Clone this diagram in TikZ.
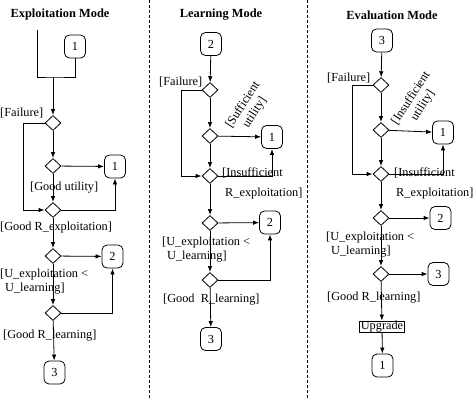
\documentclass[tikz,border=0pt]{standalone}
\usepackage{fontspec}
\setmainfont{Liberation Serif}
\usepackage{tikz}
\usetikzlibrary{shapes.geometric, arrows.meta, positioning}
\tikzstyle{state} = [draw, rounded corners=5pt,
minimum width=21pt, minimum height=23pt, inner sep=0pt,
line width=0.8pt]
\tikzstyle{choice} = [draw, diamond, minimum width=16pt,
minimum height=15pt, inner sep=0pt, line width=0.8pt]
\tikzstyle{arrow} = [line width=0.8pt,-{Latex[length=6pt,width=4.5pt]}]
\tikzstyle{wire} = [line width=0.8pt]

\begin{document}
\begin{tikzpicture}[
        x=1pt, y=-1pt,
        font=\fontsize{12.3}{14}\selectfont,
        % Estilo para las condiciones
        guard/.style={inner sep=0pt, anchor=west, align=left},
        title/.style={font=\fontsize{12.4}{14}\selectfont\bfseries},
    ]
        \useasboundingbox (0,0) rectangle (474,400);

        % 0. Separadores entre modos
        \draw[dash pattern=on 3pt off 2pt, line width=0.6pt] (149,0) -- (149,400);
        \draw[dash pattern=on 3pt off 2pt, line width=0.6pt] (307,0) -- (307,400);

        % 1. Exploitation Mode
        \node[title] (etitle) at (60,15) {Exploitation Mode};
        \coordinate (estart) at (37,30);
        \coordinate (ejoin) at (53,77);
        \node[state] (etop) at (75,46.5) {1};
        \node[choice] (ed1) at (53,123) {};
        \node[choice] (ed2) at (53,166) {};
        \node[choice] (ed3) at (53,210) {};
        \node[choice] (ed4) at (53,256) {};
        \node[choice] (ed5) at (53,313) {};
        \node[state] (eone) at (115,166.5) {1};
        \node[state] (etwo) at (112.5,256.5) {2};
        \node[state] (ethree) at (54.5,372.5) {3};

        \draw[wire] (estart) |- (ejoin) -| (etop.south);
        \draw[arrow] (ejoin) -- (ed1);
        \draw[arrow] (ed1) -- (ed2);
        \draw[arrow] (ed2) -- (ed3);
        \draw[arrow] (ed3) -- (ed4);
        \draw[arrow] (ed4) -- (ed5);
        \draw[arrow] (ed5) -- (ethree);
        \draw[arrow] (ed1.west) -- ++(-21,0) |- (ed3.west);
        \draw[arrow] (ed2) -- (eone);
        \draw[arrow] (ed3.east) -| (eone.south);
        \draw[arrow] (ed4) -- (etwo);
        \draw[arrow] (ed5.east) -| (etwo.south);

        \node[guard] at (0,113) {[Failure]};
        \node[guard] at (30,188) {[Good utility]};
        \node[guard] at (0,228) {[Good R\_exploitation]};
        \node[guard] at (0,282) {[U\_exploitation <\\\hspace{5pt}U\_learning]};
        \node[guard] at (3,336) {[Good R\_learning]};

        % 2. Learning Mode
        \node[title] (ltitle) at (221,15) {Learning Mode};
        \node[state] (ltop) at (211,44) {2};
        \node[choice] (ld1) at (210,90) {};
        \node[choice] (ld2) at (210,136) {};
        \node[choice] (ld3) at (210,176) {};
        \node[choice] (ld4) at (210,223) {};
        \node[choice] (ld5) at (210,280) {};
        \node[state] (lone) at (272,137) {1};
        \node[state] (ltwo) at (270,222.5) {2};
        \node[state] (lthree) at (211,339) {3};

        \draw[arrow] (ltop) -- (ld1);
        \draw[arrow] (ld1) -- (ld2);
        \draw[arrow] (ld2) -- (ld3);
        \draw[arrow] (ld3) -- (ld4);
        \draw[arrow] (ld4) -- (ld5);
        \draw[arrow] (ld5) -- (lthree);
        \draw[arrow] (ld1.west) -- ++(-20,0) |- (ld3.west);
        \draw[arrow] (ld2) -- (lone);
        \draw[arrow] (ld3.east) -| (lone.south);
        \draw[arrow] (ld4) -- (ltwo);
        \draw[arrow] (ld5.east) -| (ltwo.south);

        \node[guard] at (159,82) {[Failure]};
        \node[rotate=57, align=center, inner sep=0pt] at (249,109) {[Sufficient\\utility]};
        \node[guard] at (222,183) {[Insufficient\\[6pt]\hspace{3pt}R\_exploitation]};
        \node[guard] at (162,250) {[U\_exploitation <\\\hspace{5pt}U\_learning]};
        \node[guard] at (163,300) {[Good\ \ R\_learning]};

        % 3. Evaluation Mode
        \node[title] (vtitle) at (392,15) {Evaluation Mode};
        \node[state] (vtop) at (382,40.5) {3};
        \node[choice] (vd1) at (381,85) {};
        \node[choice] (vd2) at (381,130) {};
        \node[choice] (vd3) at (381,174) {};
        \node[choice] (vd4) at (381,218) {};
        \node[choice] (vd5) at (381,274) {};
        \node[state] (vone) at (443,132.5) {1};
        \node[state] (vtwo) at (440.5,218) {2};
        \node[state] (vthree) at (438.5,274) {3};
        \node[draw, line width=0.8pt, inner xsep=1pt, inner ysep=0.5pt,
              text height=8pt, text depth=2pt] (upgrade) at (382,326.5) {Upgrade};
        \node[state] (vlast) at (382.5,365.5) {1};

        \draw[arrow] (vtop) -- (vd1);
        \draw[arrow] (vd1) -- (vd2);
        \draw[arrow] (vd2) -- (vd3);
        \draw[arrow] (vd3) -- (vd4);
        \draw[arrow] (vd4) -- (vd5);
        \draw[arrow] (vd5) -- (upgrade);
        \draw[arrow] (upgrade) -- (vlast);
        \draw[arrow] (vd1.west) -- ++(-20,0) |- (vd3.west);
        \draw[arrow] (vd2) -- (vone);
        \draw[arrow] (vd3.east) -| (vone.south);
        \draw[arrow] (vd4) -- (vtwo);
        \draw[arrow] (vd5) -- (vthree);

        \node[guard] at (327,78) {[Failure]};
        \node[rotate=57, align=center, inner sep=0pt] at (417,102) {[Insufficient\\utility]};
        \node[guard] at (394,183) {[Insufficient\\[6pt]\hspace{2pt}R\_exploitation]};
        \node[guard] at (326,244.5) {[U\_exploitation <\\\hspace{5pt}U\_learning]};
        \node[guard] at (327,298) {[Good R\_learning]};

    \end{tikzpicture}
\end{document}
